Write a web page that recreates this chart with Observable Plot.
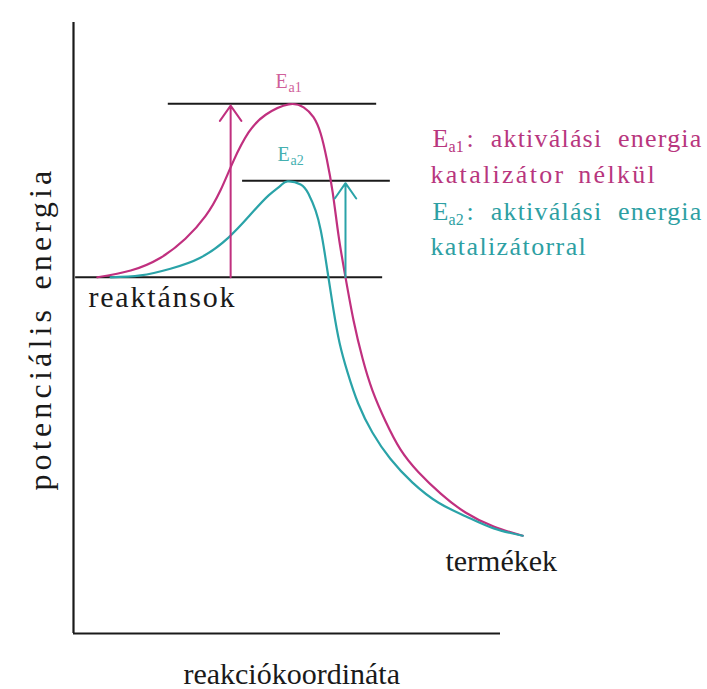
<!DOCTYPE html>
<html>
<head>
<meta charset="utf-8">
<script src="https://cdn.jsdelivr.net/npm/d3@7"></script>
<script src="https://cdn.jsdelivr.net/npm/@observablehq/plot@0.6"></script>
<style>
  html, body { margin: 0; padding: 0; background: #fff; }
  svg text { font-family: "Liberation Serif", "Times New Roman", serif; }
</style>
</head>
<body>
<div id="chart"></div>
<script>
// Reaction coordinate (0–100) and potential energy (0–100)
const uncatX = [5.6, 13.4, 20.4, 26.2, 30.9, 34.4, 37.5, 41.0, 45.0, 50.4, 53.9, 56.2, 57.9, 59.3, 60.7, 62.1, 63.7, 65.6, 67.7, 70.0, 73.1, 76.6, 80.8, 86.0, 91.8, 98.4, 105.2];
const uncatE = [58.3, 59.4, 61.5, 64.6, 68.3, 72.5, 77.4, 82.0, 84.9, 86.6, 86.1, 84.5, 81.8, 77.7, 72.2, 65.0, 58.3, 51.2, 45.0, 39.8, 34.7, 30.1, 26.4, 22.9, 19.8, 17.5, 16.0];
const catX = [8.7, 15.7, 22.7, 29.7, 36.3, 41.5, 45.7, 48.5, 50.1, 53.2, 55.0, 56.7, 57.9, 58.8, 59.7, 60.9, 62.3, 64.2, 66.7, 70.0, 74.2, 79.4, 85.5, 91.8, 98.4, 105.2];
const catE = [58.3, 58.6, 59.7, 61.5, 64.8, 68.6, 71.7, 73.3, 74.0, 73.5, 72.0, 69.2, 66.0, 62.4, 58.3, 52.9, 47.6, 42.7, 37.6, 32.9, 28.6, 24.7, 21.4, 19.2, 17.2, 16.0];

// energy levels: reactants, top of uncatalysed barrier, top of catalysed barrier
const levelNames = ["reactants", "Ea1", "Ea2"];
const levelE = [58.3, 86.7, 74.1];
const levelX1 = [0.5, 22.2, 39.6];
const levelX2 = [72.4, 71.0, 74.2];

// activation-energy arrows
const arrowNames = ["Ea1", "Ea2"];
const arrowX = [36.8, 63.7];
const arrowFrom = [58.3, 58.3];
const arrowTo = [86.4, 73.7];

const magenta = "#c0307f";
const teal = "#2aa3a8";
const magentaText = "#b8367e";
const tealText = "#2e9fa3";

const uncat = uncatX.map((x, i) => ({x, e: uncatE[i]}));
const cat = catX.map((x, i) => ({x, e: catE[i]}));
const levels = levelNames.map((n, i) => ({n, e: levelE[i], x1: levelX1[i], x2: levelX2[i]}));
const arrows = arrowNames.map((n, i) => ({n, x: arrowX[i], y1: arrowFrom[i], y2: arrowTo[i]}));
const arrowColors = [magenta, teal];

const serif = "Liberation Serif";
const T = (txt, opts) => Plot.text([txt], {text: d => d, textAnchor: "start", lineAnchor: "bottom", fontFamily: serif, ...opts});

const chart = Plot.plot({
  width: 707,
  height: 689,
  marginLeft: 73,
  marginRight: 207,
  marginTop: 22,
  marginBottom: 56,
  x: {domain: [0, 100], axis: null},
  y: {domain: [0, 100], axis: null},
  style: {background: "#fff", fontFamily: serif},
  marks: [
    // axes
    Plot.ruleX([0], {y1: 0, y2: 100, stroke: "#1a1a1a", strokeWidth: 2.2}),
    Plot.ruleY([0], {x1: 0, x2: 100, stroke: "#1a1a1a", strokeWidth: 2.2}),
    // energy levels
    Plot.ruleY(levels, {y: "e", x1: "x1", x2: "x2", stroke: "#1a1a1a", strokeWidth: 2}),
    // curves
    Plot.line(uncat, {x: "x", y: "e", stroke: magenta, strokeWidth: 2.2, curve: "natural"}),
    Plot.line(cat, {x: "x", y: "e", stroke: teal, strokeWidth: 2.2, curve: "natural"}),
    // arrows
    Plot.arrow(arrows, {x1: "x", x2: "x", y1: "y1", y2: "y2", stroke: (d, i) => arrowColors[i], strokeWidth: 2, headLength: 14, headAngle: 70, bend: 0}),
    // labels on the diagram
    T("reaktánsok", {x: 3.5, y: 53.4, fontSize: 30, fill: "#1a1a1a"}),
    T("termékek", {x: 87.1, y: 10.3, fontSize: 30, fill: "#1a1a1a"}),
    T("reakciókoordináta", {x: 51.1, y: -8.2, textAnchor: "middle", fontSize: 30, fill: "#1a1a1a"}),
    T("potenciális energia", {x: -7.7, y: 49.9, rotate: -90, textAnchor: "middle", lineAnchor: "middle", fontSize: 32, fill: "#1a1a1a"}),
    // Ea labels above the peaks
    T("E", {x: 47.3, y: 89.2, fontSize: 20, fill: "#d0609a"}),
    T("a1", {x: 47.3, y: 89.2, dx: 13, dy: 4, fontSize: 14, fill: "#d0609a"}),
    T("E", {x: 47.8, y: 77.4, fontSize: 20, fill: "#45b0b0"}),
    T("a2", {x: 47.8, y: 77.4, dx: 13, dy: 4, fontSize: 14, fill: "#45b0b0"}),
    // legend text
    T("E", {x: 84.1, y: 79.7, fontSize: 26, fill: magentaText}),
    T("a1", {x: 84.1, y: 79.7, dx: 16, dy: 5, fontSize: 16, fill: magentaText}),
    T(": aktiválási energia", {x: 84.1, y: 79.7, dx: 34, fontSize: 26, fill: magentaText}),
    T("katalizátor nélkül", {x: 83.6, y: 73.8, fontSize: 26, fill: magentaText}),
    T("E", {x: 84.1, y: 67.6, fontSize: 26, fill: tealText}),
    T("a2", {x: 84.1, y: 67.6, dx: 16, dy: 5, fontSize: 16, fill: tealText}),
    T(": aktiválási energia", {x: 84.1, y: 67.6, dx: 34, fontSize: 26, fill: tealText}),
    T("katalizátorral", {x: 83.6, y: 62.0, fontSize: 26, fill: tealText})
  ]
});
document.getElementById("chart").appendChild(chart);

// letter spacing to match the wide-set lettering of the original
const spacing = {
  "reaktánsok": [1.8, 0],
  "potenciális energia": [4.2, 4],
  ": aktiválási energia": [1.2, 8],
  "katalizátor nélkül": [2.3, 4],
  "katalizátorral": [1.4, 0]
};
d3.select(chart).selectAll("text").each(function() {
  const s = spacing[this.textContent];
  if (s) {
    this.style.letterSpacing = s[0] + "px";
    this.style.wordSpacing = s[1] + "px";
  }
});
</script>
</body>
</html>
